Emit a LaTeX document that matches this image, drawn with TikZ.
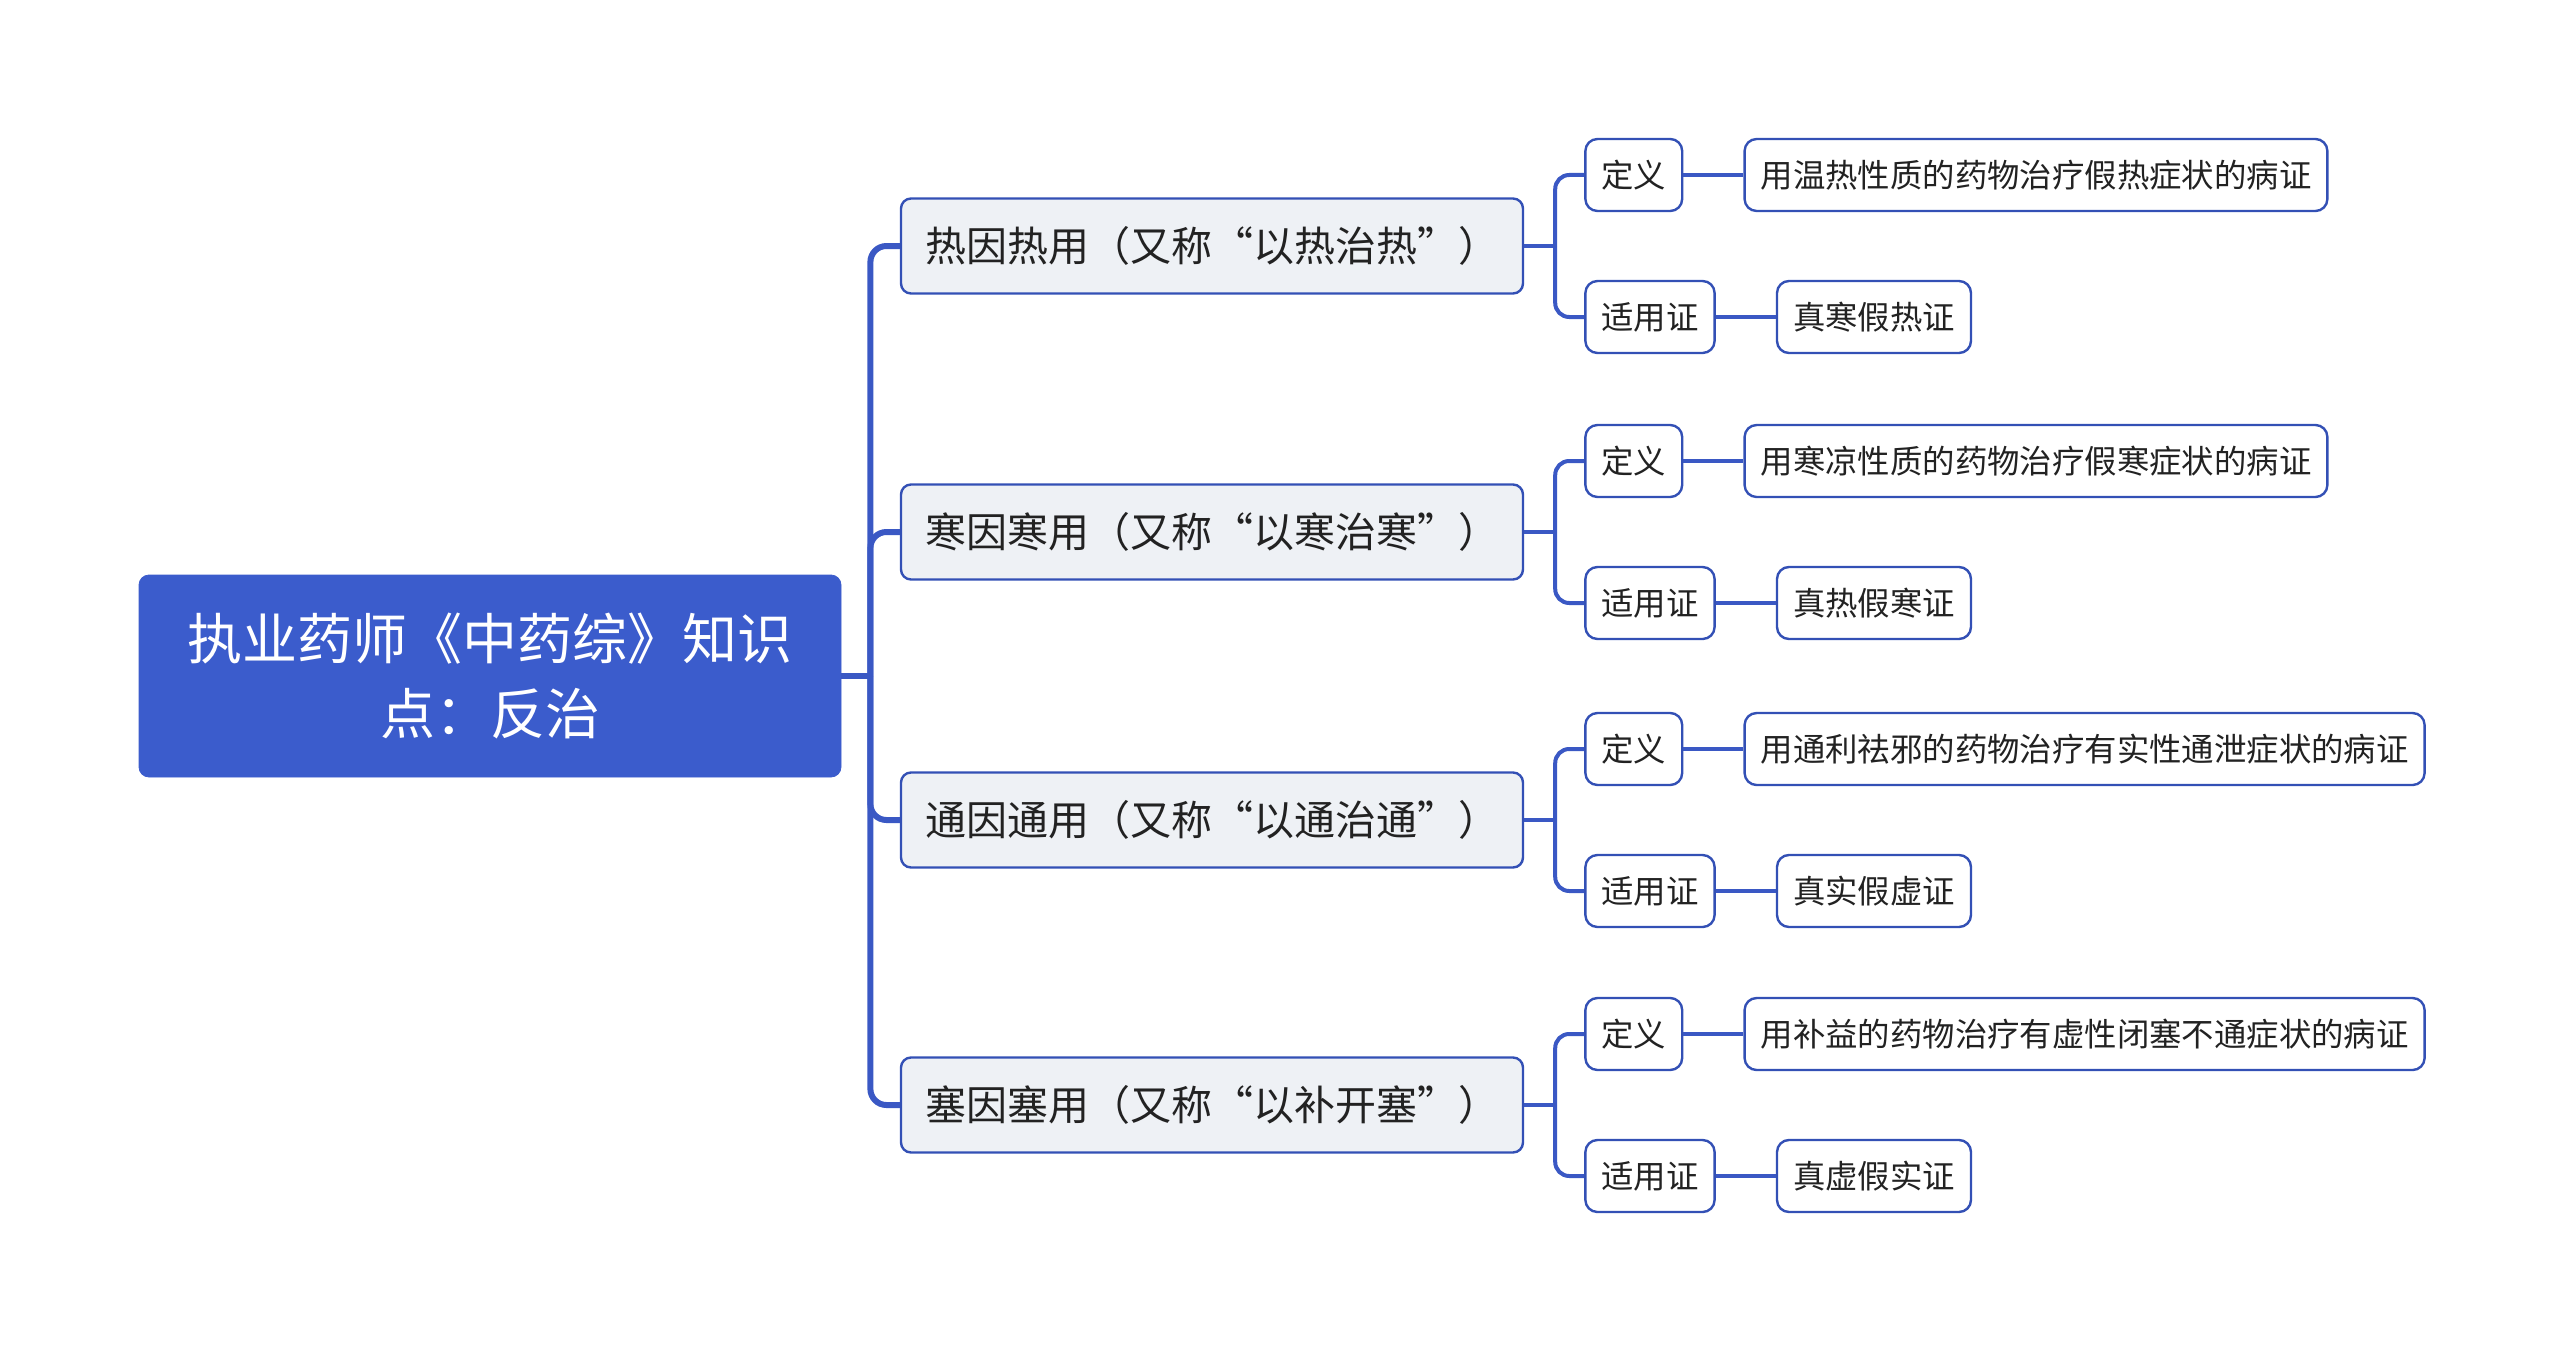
\documentclass[tikz,border=0pt]{standalone}
\usepackage{fontspec}
\setmainfont{Noto Sans CJK SC}
\usetikzlibrary{positioning}
\definecolor{rootblue}{HTML}{3B5CCC}
\definecolor{linkblue}{HTML}{3A58C4}
\definecolor{edgeblue}{HTML}{3350B5}
\definecolor{topicgray}{HTML}{EEF1F5}
\definecolor{ink}{HTML}{222222}
\tikzset{
  root/.style={fill=rootblue,draw=rootblue,rounded corners=5pt,text=white,align=center,minimum width=351pt,minimum height=101pt,font=\fontsize{27.5}{37.5}\selectfont},
  topic/.style={fill=topicgray,draw=edgeblue,line width=1.2pt,rounded corners=5pt,text=ink,minimum width=311pt,minimum height=47.5pt,inner xsep=10.5pt,font=\fontsize{20.5}{24}\selectfont},
  sub/.style={fill=white,draw=edgeblue,line width=1.2pt,rounded corners=6pt,text=ink,minimum height=36pt,inner xsep=8pt,font=\fontsize{16.2}{20}\selectfont},
  trunk/.style={draw=linkblue,line width=3pt,rounded corners=8pt},
  twig/.style={draw=linkblue,line width=2pt,rounded corners=7pt}
}
\begin{document}
\begin{tikzpicture}[node distance=30pt]
  \useasboundingbox (0,0) rectangle (1280pt,-677pt);
  % centre
  \node[root] (root) at (245pt,-338pt) {执业药师《中药综》知识\\点：反治};
  % four branches
  \node[topic] (re) at (606pt,-123pt) {热因热用（又称“以热治热”）};
  \node[topic] (han) at (606pt,-266pt) {寒因寒用（又称“以寒治寒”）};
  \node[topic] (tong) at (606pt,-410pt) {通因通用（又称“以通治通”）};
  \node[topic] (sai) at (606pt,-552.5pt) {塞因塞用（又称“以补开塞”）};
  % leaves
  \node[sub,right=of re,yshift=35.5pt] (re-def) {定义};
  \node[sub,right=of re-def] (re-def-txt) {用温热性质的药物治疗假热症状的病证};
  \node[sub,right=of re,yshift=-35.5pt] (re-use) {适用证};
  \node[sub,right=of re-use] (re-use-txt) {真寒假热证};
  \node[sub,right=of han,yshift=35.5pt] (han-def) {定义};
  \node[sub,right=of han-def] (han-def-txt) {用寒凉性质的药物治疗假寒症状的病证};
  \node[sub,right=of han,yshift=-35.5pt] (han-use) {适用证};
  \node[sub,right=of han-use] (han-use-txt) {真热假寒证};
  \node[sub,right=of tong,yshift=35.5pt] (tong-def) {定义};
  \node[sub,right=of tong-def] (tong-def-txt) {用通利祛邪的药物治疗有实性通泄症状的病证};
  \node[sub,right=of tong,yshift=-35.5pt] (tong-use) {适用证};
  \node[sub,right=of tong-use] (tong-use-txt) {真实假虚证};
  \node[sub,right=of sai,yshift=35.5pt] (sai-def) {定义};
  \node[sub,right=of sai-def] (sai-def-txt) {用补益的药物治疗有虚性闭塞不通症状的病证};
  \node[sub,right=of sai,yshift=-35.5pt] (sai-use) {适用证};
  \node[sub,right=of sai-use] (sai-use-txt) {真虚假实证};
  % connectors
  \coordinate[right=14.5pt of root] (fork);
  \draw[trunk] (root.east) -- (fork);
  \foreach \t in {re,han,tong,sai}{
    \draw[trunk] (fork) |- (\t.west);
    \coordinate[right=15.5pt of \t] (\t-fork);
    \draw[twig] (\t.east) -- (\t-fork);
    \draw[twig] (\t-fork) |- (\t-def.west);
    \draw[twig] (\t-fork) |- (\t-use.west);
    \draw[twig] (\t-def) -- (\t-def-txt);
    \draw[twig] (\t-use) -- (\t-use-txt);
  }
\end{tikzpicture}
\end{document}
